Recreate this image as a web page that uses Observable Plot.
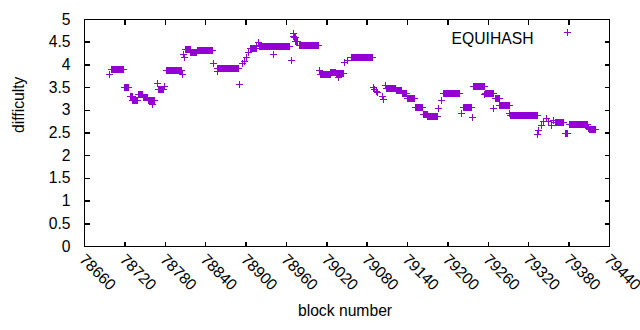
<!DOCTYPE html>
<html>
<head>
<meta charset="utf-8">
<script src="https://cdn.jsdelivr.net/npm/d3@7"></script>
<script src="https://cdn.jsdelivr.net/npm/@observablehq/plot@0.6"></script>
<style>
  html, body { margin: 0; padding: 0; background: white; }
  #chart { width: 640px; height: 330px; }
</style>
</head>
<body>
<div id="chart"></div>
<script>
// Runs of consecutive blocks sharing the same difficulty
const runStart = [78697,78700,78720,78729,78732,78740,78747,78755,78761,78768,78770,78779,78782,78806,78807,78808,78810,78818,78828,78852,78857,78858,78891,78895,78897,78900,78903,78907,78916,78919,78920,78941,78968,78970,78971,78972,78974,78980,79009,79011,79026,79034,79037,79046,79051,79056,79089,79091,79094,79096,79102,79104,79107,79109,79124,79132,79140,79152,79163,79170,79186,79190,79193,79220,79223,79236,79238,79255,79256,79268,79270,79277,79292,79293,79333,79335,79339,79342,79346,79349,79354,79357,79360,79374,79381,79409,79410];
const runEnd   = [78697,78718,78726,78731,78738,78746,78754,78764,78761,78768,78777,78779,78804,78806,78807,78808,78817,78827,78850,78852,78857,78889,78891,78895,78897,78900,78903,78915,78916,78919,78965,78941,78968,78970,78971,78973,78977,79008,79009,79025,79033,79045,79037,79046,79051,79088,79089,79091,79094,79096,79102,79104,79107,79122,79131,79138,79151,79162,79169,79184,79186,79190,79217,79220,79235,79236,79254,79255,79267,79268,79276,79291,79292,79333,79333,79335,79339,79342,79346,79349,79354,79357,79372,79378,79407,79409,79419];
const runValue = [3.78,3.89,3.50,3.30,3.22,3.34,3.28,3.22,3.12,3.58,3.46,3.52,3.88,3.78,4.22,4.16,4.34,4.27,4.32,4.04,3.86,3.91,3.57,4.03,4.08,4.16,4.28,4.36,4.43,4.50,4.40,4.22,4.10,4.62,4.69,4.60,4.52,4.43,3.88,3.79,3.83,3.81,3.73,4.06,4.10,4.16,3.51,3.46,3.42,3.39,3.30,3.24,3.55,3.48,3.44,3.38,3.27,3.07,2.91,2.86,3.03,3.21,3.36,2.94,3.07,2.85,3.53,3.34,3.38,3.05,3.26,3.10,2.92,2.88,2.47,2.55,2.66,2.75,2.82,2.76,2.66,2.78,2.73,2.49,2.68,2.60,2.58];

const xTicks = [78660,78720,78780,78840,78900,78960,79020,79080,79140,79200,79260,79320,79380,79440];
const yTicks = [0,0.5,1,1.5,2,2.5,3,3.5,4,4.5,5];
const seriesName = "EQUIHASH";

// decode runs into one point per block
const points = [];
runStart.forEach((s, i) => {
  for (let b = s; b <= runEnd[i]; b++) points.push({block: b, difficulty: runValue[i]});
});

const plus = {draw(ctx, size) { const r = Math.sqrt(size / Math.PI); ctx.moveTo(-r, 0); ctx.lineTo(r, 0); ctx.moveTo(0, -r); ctx.lineTo(0, r); }};
const tickUp = {draw(ctx) { ctx.moveTo(0, 0); ctx.lineTo(0, -5); }};
const tickDown = {draw(ctx) { ctx.moveTo(0, 0); ctx.lineTo(0, 5); }};
const tickRight = {draw(ctx) { ctx.moveTo(0, 0); ctx.lineTo(5, 0); }};
const tickLeft = {draw(ctx) { ctx.moveTo(0, 0); ctx.lineTo(-5, 0); }};

const color = "#9400D3";
const font = "'Liberation Sans', Arial, sans-serif";
const fs = 15.7;
const crisp = {shapeRendering: "crispEdges"};

const chart = Plot.plot({
  width: 640,
  height: 330,
  marginLeft: 84,
  marginRight: 31,
  marginTop: 19,
  marginBottom: 84,
  style: {fontFamily: font, fontSize: fs + "px", background: "white", color: "black"},
  x: {domain: [78660, 79440], axis: null},
  y: {domain: [0, 5], axis: null},
  marks: [
    Plot.frame({stroke: "black", strokeWidth: 1, ...crisp}),
    Plot.dot(xTicks, {x: d => d, frameAnchor: "bottom", symbol: tickUp, stroke: "black", fill: "none", ...crisp}),
    Plot.dot(xTicks, {x: d => d, frameAnchor: "top", symbol: tickDown, stroke: "black", fill: "none", ...crisp}),
    Plot.dot(yTicks, {y: d => d, frameAnchor: "left", symbol: tickRight, stroke: "black", fill: "none", ...crisp}),
    Plot.dot(yTicks, {y: d => d, frameAnchor: "right", symbol: tickLeft, stroke: "black", fill: "none", ...crisp}),
    Plot.text(yTicks, {y: d => d, text: d => String(d), frameAnchor: "left", dx: -14, textAnchor: "end", fontSize: fs, fill: "black"}),
    Plot.text(xTicks, {x: d => d, text: d => String(d), frameAnchor: "bottom", dx: 2, dy: 6, rotate: 45, textAnchor: "start", lineAnchor: "top", fontSize: fs, fill: "black"}),
    Plot.dot(points, {x: "block", y: "difficulty", symbol: plus, r: 3.5, stroke: color, fill: "none", strokeWidth: 1, ...crisp}),
    Plot.text([seriesName], {text: d => d, frameAnchor: "top-right", dx: -76, dy: 13, textAnchor: "end", fontSize: fs, fill: "black"}),
    Plot.dot([seriesName], {frameAnchor: "top-right", dx: -42, dy: 13, symbol: plus, r: 3.5, stroke: color, fill: "none", ...crisp}),
    Plot.text(["difficulty"], {text: d => d, frameAnchor: "left", dx: -66, rotate: -90, fontSize: fs, fill: "black"}),
    Plot.text(["block number"], {text: d => d, frameAnchor: "bottom", dy: 69, dx: -2, fontSize: fs, fill: "black"})
  ]
});
document.getElementById("chart").appendChild(chart);
</script>
</body>
</html>
